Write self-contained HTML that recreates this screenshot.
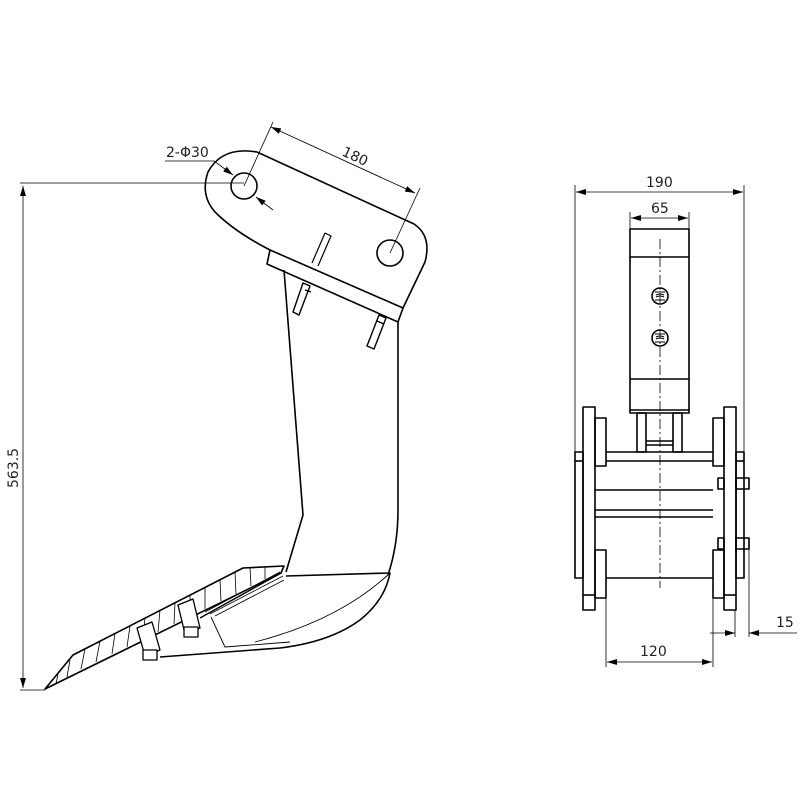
<!DOCTYPE html>
<html><head><meta charset="utf-8"><style>
html,body{margin:0;padding:0;background:#fff;}
svg{display:block;}
text{font-family:"DejaVu Sans","Liberation Sans",sans-serif;font-size:14px;fill:#222;}
</style></head><body>
<svg width="800" height="800" viewBox="0 0 800 800" xmlns="http://www.w3.org/2000/svg">
<defs>
<marker id="a" viewBox="0 0 10 6" refX="10" refY="3" markerWidth="10" markerHeight="6" orient="auto-start-reverse" markerUnits="userSpaceOnUse"><path d="M0,0 L10,3 L0,6 z" fill="#000"/></marker>
</defs>
<g fill="none" stroke="#000" stroke-width="1.6" stroke-linejoin="round">
<!-- arm plate -->
<path d="M257,152 L414,224 Q432,236 425,262 L403,308 M270,250 Q235,232 215,212 Q200,195 208,172 Q222,146 257,152"/>
<circle cx="244" cy="186" r="13"/>
<circle cx="390" cy="253" r="13"/>
<!-- bar -->
<path d="M270,250 L403,308 L398,322 L267,264 Z"/>
<!-- pins -->
<path d="M325,233 L331,236 L318,266 M312,263 L325,233" stroke-width="1.2"/>
<path d="M303,283 L310,286 L299,315 L293,312 Z M305,290 L311,292" stroke-width="1.4"/>
<path d="M379,315 L386,318 L374,349 L367,346 Z M377,321 L384,324" stroke-width="1.4"/>
<!-- shank -->
<path d="M284,270 L303,515 L286,572"/>
<path d="M398,322 L398,510 Q398,545 388,575"/>
<path d="M286,576 L390,573 Q385,600 360,620 Q330,642 280,648 L160,657"/>
<path d="M390,573 Q340,620 255,642" stroke-width="0.9"/>
<path d="M211,617 L225,647 L290,642" stroke-width="0.9"/>
<!-- blade -->
<path d="M45,689 L73,655 L243,568 L284,566 L281,573 Z" fill="#fff"/>
<path d="M281,573 L200,618" stroke-width="1.4"/>
<g stroke-width="0.8">
<path d="M85,649 L81,669 M100,641 L96,662 M115,633 L112,654 M130,626 L127,647 M145,618 L143,639 M160,610 L158,632 M175,603 L174,624 M190,595 L190,617 M205,587 L205,609 M220,580 L221,601 M235,572 L236,594 M250,568 L251,586 M265,567 L265,579 M58,674 L56,684 M70,660 L67,677"/>
<path d="M205,612 L280,572 M210,614 L283,576 M215,616 L284,580" />
</g>
<!-- bolts -->
<g stroke-width="1.3" fill="#fff">
<path d="M137,628 L152,622 L160,650 L145,656 Z"/>
<rect x="143" y="650" width="14" height="10"/>
<path d="M178,605 L193,599 L200,628 L185,634 Z"/>
<rect x="184" y="627" width="14" height="10"/>
</g>
<!-- right view -->
<rect x="630" y="229" width="59" height="184"/>
<path d="M630,257 H689 M630,379 H689 M630,410 H689"/>
<circle cx="660" cy="296" r="8"/><circle cx="660" cy="338" r="8"/>
<path d="M655,292 h10 M655,300 h10 M656,295 q4,-2 8,0 M656,297 q4,-2 8,0 M655,334 h10 M655,342 h10 M656,337 q4,-2 8,0 M656,339 q4,-2 8,0" stroke-width="1"/>
<rect x="637" y="413" width="9" height="39"/>
<rect x="673" y="413" width="9" height="39"/>
<path d="M646,441 H673 M646,445 H673"/>
<rect x="575" y="452" width="8" height="126"/>
<path d="M575,461 H583"/>
<rect x="583" y="407" width="12" height="203"/>
<path d="M583,595 H595"/>
<rect x="595" y="418" width="11" height="48"/>
<rect x="595" y="550" width="11" height="48"/>
<path d="M606,452 H713 M606,461 H713 M595,490 H713 M595,510 H713 M595,517 H713 M606,578 H713"/>
<rect x="713" y="418" width="11" height="48"/>
<rect x="713" y="550" width="11" height="48"/>
<rect x="724" y="407" width="12" height="203"/>
<path d="M724,595 H736"/>
<rect x="736" y="452" width="8" height="126"/>
<path d="M736,461 H744"/>
<rect x="718" y="478" width="6" height="11"/><rect x="736" y="478" width="13" height="11"/>
<rect x="718" y="538" width="6" height="11"/><rect x="736" y="538" width="13" height="11"/>
</g>
<g fill="none" stroke="#000" stroke-width="0.8">
<path d="M660,239 V588" stroke-dasharray="10,3,2,3"/>
<!-- dims left -->
<path d="M20,183 H244 M20,690 H45"/>
<path d="M23,186 V688" marker-start="url(#a)" marker-end="url(#a)"/>
<path d="M165,161 H214 L233,175" marker-end="url(#a)"/>
<path d="M273,210 L256,197" marker-end="url(#a)"/>
<path d="M244,186 L273,122 M390,253 L420,188"/>
<path d="M271,127 L415,193" marker-start="url(#a)" marker-end="url(#a)"/>
<!-- dims right -->
<path d="M575,185 V452 M744,185 V452 M630,212 V229 M689,212 V229"/>
<path d="M576,192 H743" marker-start="url(#a)" marker-end="url(#a)"/>
<path d="M631,218 H688" marker-start="url(#a)" marker-end="url(#a)"/>
<path d="M606,598 V667 M713,598 V667 M735,610 V637 M749,549 V637"/>
<path d="M607,662 H712" marker-start="url(#a)" marker-end="url(#a)"/>
<path d="M710,633 H735" marker-end="url(#a)"/>
<path d="M797,633 H749" marker-end="url(#a)"/>
</g>
<text x="166" y="157">2-Φ30</text>
<text x="0" y="0" transform="translate(341,155) rotate(25)">180</text>
<text x="0" y="0" transform="translate(18,488) rotate(-90)">563.5</text>
<text x="646" y="187">190</text>
<text x="651" y="213">65</text>
<text x="640" y="656">120</text>
<text x="776" y="627">15</text>
</svg>
</body></html>
